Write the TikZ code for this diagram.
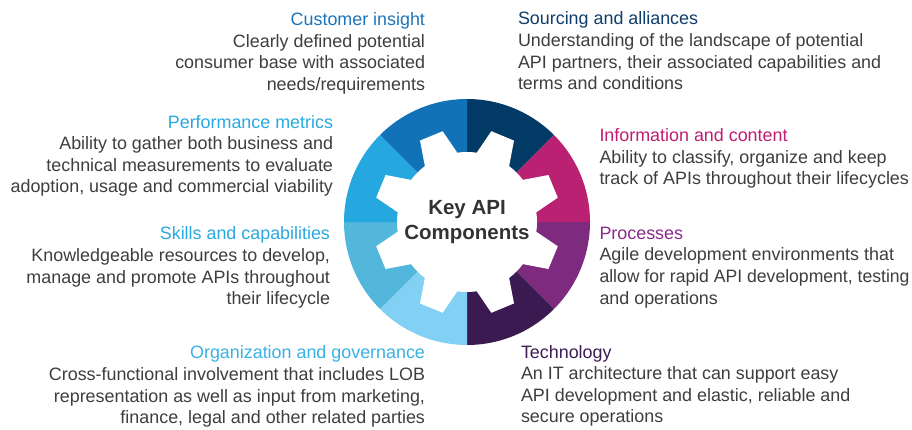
\documentclass[tikz,border=0pt]{standalone}
\usepackage{fontspec}
\setmainfont{Liberation Sans}
\definecolor{bodygray}{HTML}{3E3E3E}
\definecolor{centergray}{HTML}{333333}
\definecolor{segCust}{HTML}{1272B8}
\definecolor{segSour}{HTML}{023A66}
\definecolor{segInfo}{HTML}{BA2172}
\definecolor{segProc}{HTML}{7E2A7E}
\definecolor{segTech}{HTML}{3B1A52}
\definecolor{segOrg}{HTML}{82D1F5}
\definecolor{segSkill}{HTML}{52B7DA}
\definecolor{segPerf}{HTML}{25A7DF}
\definecolor{tCust}{HTML}{1B75BC}
\definecolor{tSour}{HTML}{0F3E6C}
\definecolor{tInfo}{HTML}{BE1E72}
\definecolor{tProc}{HTML}{8A2B8A}
\definecolor{tTech}{HTML}{3D1C56}
\definecolor{tOrg}{HTML}{38B1E5}
\definecolor{tSkill}{HTML}{29A9E0}
\definecolor{tPerf}{HTML}{29A9E0}
\tikzset{
  blk/.style={inner sep=0pt, outer sep=0pt, font=\fontsize{17.9}{21.6}\selectfont, text=bodygray},
  lblk/.style={blk, align=left, anchor=north west},
  rblk/.style={blk, align=right, anchor=north east},
  centertext/.style={inner sep=0pt, font=\bfseries\fontsize{20.5}{25}\selectfont, text=centergray, align=center, anchor=north},
}
\begin{document}
\begin{tikzpicture}[x=1pt,y=1pt]
\useasboundingbox (0,0) rectangle (912,429);
\fill[white] (0,0) rectangle (912,429);
% gear ring segments
\begin{scope}[shift={(467,207)}]
  \foreach \s/\col in {45/segSour,0/segInfo,-45/segProc,-90/segTech,-135/segOrg,-180/segSkill,135/segPerf,90/segCust}{
    \fill[\col] (0,0) -- (\s:123pt) arc[start angle=\s, end angle=\s+45, radius=123pt] -- cycle;
  }
  \fill[white] (8:70pt)
    \foreach \a in {22.5,67.5,...,337.5}{
      -- ({\a-14.5}:70pt) -- ({\a-7.5}:94pt) -- ({\a+7.5}:94pt) -- ({\a+14.5}:70pt)
      arc[start angle={\a+14.5}, end angle={\a+30.5}, radius=70pt]
    } -- cycle;
\end{scope}
\node[centertext] (center) at (467,229) {Key API\\Components};
% left blocks
\node[rblk] (cust) at (425,416.4) {{\color{tCust}Customer insight}\\Clearly defined potential\\consumer base with associated\\needs/requirements};
\node[rblk] (perf) at (333,313.8) {{\color{tPerf}Performance metrics}\\Ability to gather both business and\\technical measurements to evaluate\\adoption, usage and commercial viability};
\node[rblk] (skill) at (330,202.1) {{\color{tSkill}Skills and capabilities}\\Knowledgeable resources to develop,\\manage and promote APIs throughout\\their lifecycle};
\node[rblk] (org) at (425,83.1) {{\color{tOrg}Organization and governance}\\Cross-functional involvement that includes LOB\\representation as well as input from marketing,\\finance, legal and other related parties};
% right blocks
\node[lblk] (sour) at (518,417.1) {{\color{tSour}Sourcing and alliances}\\Understanding of the landscape of potential\\API partners, their associated capabilities and\\terms and conditions};
\node[lblk] (info) at (599.5,300.4) {{\color{tInfo}Information and content}\\Ability to classify, organize and keep\\track of APIs throughout their lifecycles};
\node[lblk] (proc) at (599.5,202.1) {{\color{tProc}Processes}\\Agile development environments that\\\scalebox{0.983}[1]{allow for rapid API development, testing}\\and operations};
\node[lblk] (tech) at (521,83.8) {{\color{tTech}Technology}\\An IT architecture that can support easy\\API development and elastic, reliable and\\secure operations};
\end{tikzpicture}
\end{document}
